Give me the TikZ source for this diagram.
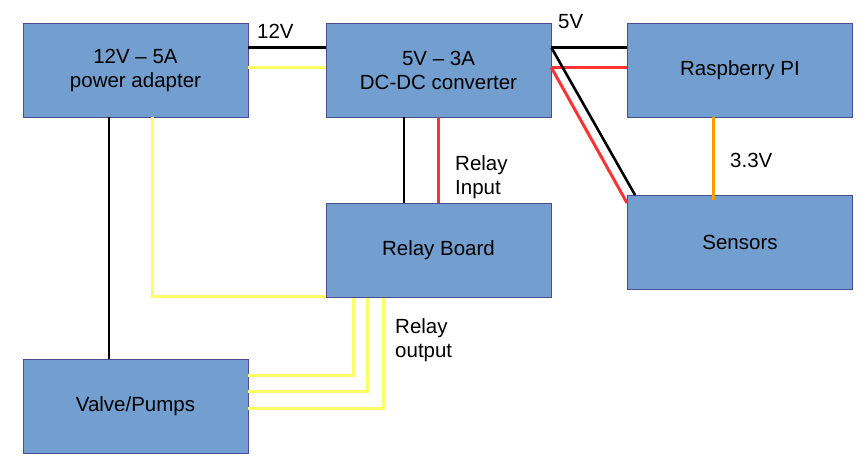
\documentclass[tikz,border=0pt]{standalone}
\usepackage{fontspec}
\setmainfont{Liberation Sans}
\begin{document}
\begin{tikzpicture}[x=1pt,y=-1pt,
  blk/.style={draw=blue!40!black!70!white, line width=0.8pt, fill=boxblue, minimum width=225pt, minimum height=94pt, inner sep=0pt, align=center, font=\fontsize{20.5}{24}\selectfont},
  lbl/.style={anchor=base west, inner sep=0pt, align=left, font=\fontsize{20.5}{24}\selectfont},
  wblack/.style={draw=black, line width=2.6pt},
  wblackthin/.style={draw=black, line width=2.2pt},
  wyellow/.style={draw=wireyellow, line width=3pt},
  wred/.style={draw=wirered, line width=3pt},
  worange/.style={draw=wireorange, line width=3pt}]
\definecolor{boxblue}{HTML}{729FCF}
\definecolor{wireyellow}{HTML}{FFFF66}
\definecolor{wirered}{HTML}{FF3333}
\definecolor{wireorange}{HTML}{FF9900}
\useasboundingbox (0,0) rectangle (864,464);
\node[blk] (ad) at (135.5,70) {12V -- 5A\\power adapter};
\node[blk] (conv) at (438.5,70) {5V -- 3A\\DC-DC converter};
\node[blk] (pi) at (740,70) {Raspberry PI};
\node[blk] (relay) at (438.5,250.5) {Relay Board};
\node[blk] (sens) at (740,242.5) {Sensors};
\node[blk] (valve) at (135.5,406.5) {Valve/Pumps};
% adapter -> converter
\draw[wblack] ([yshift=-25pt]ad.north east) -- ([yshift=-25pt]conv.north west);
\draw[wyellow] ([yshift=-45pt]ad.north east) -- ([yshift=-45pt]conv.north west);
% converter -> pi
\draw[wblack] ([yshift=-25pt]conv.north east) -- ([yshift=-25pt]pi.north west);
\draw[wred] ([yshift=-45pt]conv.north east) -- ([yshift=-45pt]pi.north west);
% converter -> sensors
\draw[wblack] ([yshift=-25pt]conv.north east) -- ([xshift=8pt]sens.north west);
\draw[wred] ([yshift=-45pt]conv.north east) -- ([yshift=-8pt]sens.north west);
% converter -> relay
\draw[wblackthin] ([xshift=-34.5pt]conv.south) -- ([xshift=-34.5pt]relay.north);
\draw[wred] (conv.south) -- (relay.north);
% pi -> sensors
\draw[worange] ([xshift=-27pt]pi.south) -- ([xshift=-27pt,yshift=-5pt]sens.north);
% adapter -> valve
\draw[wblackthin] ([xshift=-26.5pt]ad.south) -- ([xshift=-26.5pt]valve.north);
% adapter -> relay (yellow)
\draw[wyellow] ([xshift=16.5pt]ad.south) |- ([yshift=1pt]relay.south west);
% relay outputs -> valve
\draw[wyellow] ([xshift=28pt]relay.south west) |- ([yshift=-16pt]valve.north east);
\draw[wyellow] ([xshift=42pt]relay.south west) |- ([yshift=-32pt]valve.north east);
\draw[wyellow] ([xshift=58pt]relay.south west) |- ([yshift=-49pt]valve.north east);
% labels
\node[lbl] (l12) at (257,38) {12V};
\node[lbl] (l5) at (558,28) {5V};
\node[lbl] (l33) at (730,167) {3.3V};
\node[lbl] (lri) at (455,194) {Relay\\Input};
\node[lbl] (lro) at (395,357) {Relay\\output};
\end{tikzpicture}
\end{document}
